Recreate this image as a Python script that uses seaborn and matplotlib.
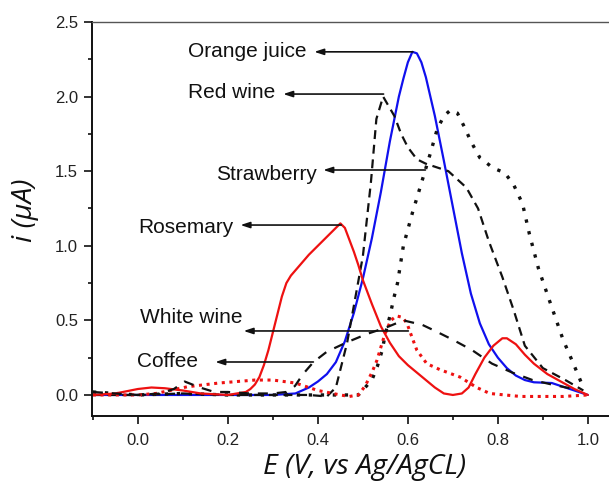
import matplotlib
matplotlib.use("Agg")
import matplotlib.pyplot as plt
import seaborn as sns
import pandas as pd
from matplotlib.ticker import MultipleLocator

# ---------------- data ----------------
orange_x = [-0.10, 0.10, 0.30, 0.35, 0.38, 0.40, 0.42, 0.44, 0.46, 0.48, 0.50, 0.52, 0.54, 0.56,
            0.58, 0.59, 0.60, 0.61, 0.62, 0.63, 0.64, 0.66, 0.68, 0.70, 0.72, 0.74, 0.76, 0.78,
            0.80, 0.82, 0.84, 0.86, 0.88, 0.92, 0.95, 1.00]
orange_y = [0.00, 0.00, 0.00, 0.01, 0.05, 0.09, 0.14, 0.22, 0.36, 0.55, 0.78, 1.05, 1.36, 1.70,
            2.00, 2.12, 2.23, 2.30, 2.29, 2.23, 2.13, 1.87, 1.57, 1.26, 0.95, 0.68, 0.48, 0.34,
            0.25, 0.18, 0.13, 0.10, 0.085, 0.08, 0.05, 0.00]

redwine_x = [-0.10, 0.00, 0.10, 0.20, 0.30, 0.38, 0.42, 0.44, 0.465, 0.50, 0.518, 0.53, 0.545,
             0.57, 0.585, 0.60, 0.62, 0.64, 0.69, 0.73, 0.756, 0.78, 0.81, 0.835, 0.86, 0.90,
             0.95, 0.99]
redwine_y = [0.00, 0.00, 0.01, 0.00, 0.00, 0.00, -0.01, 0.05, 0.35, 0.93, 1.43, 1.85, 2.00,
             1.87, 1.75, 1.66, 1.58, 1.55, 1.50, 1.39, 1.25, 1.03, 0.79, 0.57, 0.33, 0.18,
             0.10, 0.03]

straw_x = [-0.10, 0.00, 0.10, 0.20, 0.30, 0.40, 0.49, 0.52, 0.532, 0.543, 0.55, 0.561, 0.568,
           0.577, 0.59, 0.61, 0.63, 0.65, 0.665, 0.68, 0.695, 0.71, 0.725, 0.74, 0.76, 0.79,
           0.815, 0.835, 0.855, 0.87, 0.89, 0.915, 0.93, 0.945, 0.965, 0.99]
straw_y = [0.02, 0.00, 0.01, 0.00, 0.00, 0.00, 0.00, 0.10, 0.19, 0.30, 0.41, 0.54, 0.64,
           0.75, 1.00, 1.22, 1.42, 1.62, 1.78, 1.87, 1.91, 1.89, 1.80, 1.70, 1.59, 1.52,
           1.49, 1.41, 1.28, 1.08, 0.85, 0.63, 0.50, 0.37, 0.23, 0.05]

rose_x = [-0.10, -0.05, 0.00, 0.03, 0.06, 0.10, 0.14, 0.20, 0.24, 0.25, 0.26, 0.27, 0.28, 0.29,
          0.30, 0.31, 0.32, 0.33, 0.34, 0.36, 0.38, 0.40, 0.42, 0.44, 0.45, 0.46, 0.47, 0.48,
          0.49, 0.50, 0.52, 0.54, 0.56, 0.58, 0.60, 0.62, 0.64, 0.66, 0.68, 0.70, 0.72, 0.735,
          0.75, 0.77, 0.79, 0.81, 0.82, 0.84, 0.86, 0.88, 0.91, 0.94, 0.97, 1.00]
rose_y = [0.00, 0.01, 0.04, 0.05, 0.045, 0.03, 0.01, 0.00, 0.02, 0.04, 0.07, 0.12, 0.20, 0.30,
          0.42, 0.54, 0.66, 0.75, 0.80, 0.87, 0.94, 1.00, 1.06, 1.12, 1.15, 1.12, 1.04, 0.96,
          0.87, 0.77, 0.61, 0.46, 0.35, 0.26, 0.20, 0.15, 0.10, 0.05, 0.01, 0.00, 0.01, 0.05,
          0.14, 0.25, 0.33, 0.38, 0.38, 0.34, 0.27, 0.21, 0.14, 0.09, 0.04, 0.00]

white_x = [-0.10, 0.00, 0.04, 0.11, 0.18, 0.26, 0.30, 0.35, 0.40, 0.45, 0.47, 0.49, 0.505,
           0.52, 0.531, 0.549, 0.562, 0.575, 0.588, 0.598, 0.61, 0.62, 0.642, 0.671, 0.716,
           0.753, 0.782, 0.85, 0.945, 1.00]
white_y = [0.00, 0.00, 0.01, 0.055, 0.08, 0.10, 0.10, 0.08, 0.03, 0.00, -0.01, 0.00, 0.06,
           0.15, 0.23, 0.41, 0.50, 0.53, 0.52, 0.48, 0.38, 0.30, 0.21, 0.17, 0.12,
           0.05, 0.01, -0.01, -0.01, 0.00]

coffee_x = [-0.10, 0.00, 0.05, 0.08, 0.104, 0.138, 0.17, 0.20, 0.25, 0.30, 0.33, 0.349, 0.367,
            0.39, 0.42, 0.466, 0.51, 0.55, 0.59, 0.632, 0.66, 0.70, 0.743, 0.787, 0.832, 0.877,
            0.92, 0.976]
coffee_y = [0.02, 0.00, 0.01, 0.04, 0.09, 0.05, 0.02, 0.02, 0.01, 0.01, 0.02, 0.06, 0.14,
            0.22, 0.29, 0.355, 0.41, 0.45, 0.50, 0.47, 0.43, 0.37, 0.30, 0.21, 0.15, 0.10,
            0.07, 0.035]

labels = ["Orange juice", "Red wine", "Strawberry", "Rosemary", "White wine", "Coffee"]
# text anchor (left, centre) and arrow head / tail x, arrow y
label_pos = [(0.112, 2.30), (0.112, 2.027), (0.174, 1.48), (0.001, 1.12), (0.005, 0.519), (-0.001, 0.225)]
arrow_head_x = [0.392, 0.323, 0.412, 0.228, 0.235, 0.172]
arrow_tail_x = [0.611, 0.546, 0.639, 0.452, 0.601, 0.39]
arrow_y = [2.30, 2.017, 1.508, 1.139, 0.429, 0.221]

x_ticks = [0.0, 0.2, 0.4, 0.6, 0.8, 1.0]
y_ticks = [0.0, 0.5, 1.0, 1.5, 2.0, 2.5]

# ---------------- figure ----------------
sns.set_style("ticks")
plt.rcParams["font.family"] = ["Liberation Sans", "DejaVu Sans"]

fig = plt.figure(figsize=(6.09, 4.90), dpi=100)
ax = fig.add_axes([92 / 609, 1 - 416 / 490, 1 - 92 / 609, (416 - 22) / 490])

series = [
    (orange_x, orange_y, "#1010ee", "-", 1.6),
    (redwine_x, redwine_y, "#111111", (0, (4, 2.6)), 1.6),
    (straw_x, straw_y, "#111111", (0, (1.0, 2.6)), 2.4),
    (rose_x, rose_y, "#ee1111", "-", 1.6),
    (white_x, white_y, "#ee1111", (0, (1.0, 1.5)), 2.2),
    (coffee_x, coffee_y, "#111111", (0, (4.5, 4.0)), 1.6),
]
for xs, ys, col, ls, lw in series:
    df = pd.DataFrame({"E": xs, "i": ys})
    sns.lineplot(data=df, x="E", y="i", ax=ax, color=col, linestyle=ls, linewidth=lw,
                 sort=False, estimator=None)

for lab, (tx, ty), hx, tlx, ay in zip(labels, label_pos, arrow_head_x, arrow_tail_x, arrow_y):
    ax.text(tx, ty, lab, ha="left", va="center", fontsize=15, color="#111111")
    ax.annotate("", xy=(hx, ay), xytext=(tlx, ay),
                arrowprops=dict(arrowstyle="-|>,head_length=0.55,head_width=0.18",
                                color="#111111", lw=1.2, shrinkA=0, shrinkB=0))

ax.set_xlim(-0.102, 1.047)
ax.set_ylim(-0.141, 2.5)
ax.set_xticks(x_ticks)
ax.set_yticks(y_ticks)
ax.set_xticklabels([f"{v:.1f}" for v in x_ticks])
ax.set_yticklabels([f"{v:.1f}" for v in y_ticks])
ax.xaxis.set_minor_locator(MultipleLocator(0.1))
ax.yaxis.set_minor_locator(MultipleLocator(0.25))
ax.tick_params(which="major", direction="out", length=6, width=1.2, labelsize=12,
               color="#111111", labelcolor="#222222", pad=4)
ax.tick_params(which="minor", direction="out", length=3, width=1.2, color="#111111")
ax.tick_params(axis="x", which="major", pad=6)
ax.set_xlabel("")
ax.set_ylabel("")

for s in ["left", "bottom"]:
    ax.spines[s].set_linewidth(1.4)
    ax.spines[s].set_color("#111111")
ax.spines["top"].set_linewidth(1.0)
ax.spines["top"].set_color("#555555")
ax.spines["right"].set_visible(False)

fig.text(365 / 609, 1 - 467 / 490, "E (V, vs Ag/AgCL)", ha="center", va="center",
         fontsize=20.5, style="italic", family=["Open Sans", "DejaVu Sans"], color="#111111")
fig.text(25 / 609, 1 - 210 / 490, "i (μA)", ha="center", va="center", rotation=90,
         fontsize=20.5, style="italic", family=["Open Sans", "DejaVu Sans"], color="#111111")

fig.savefig("out.png", dpi=100)
